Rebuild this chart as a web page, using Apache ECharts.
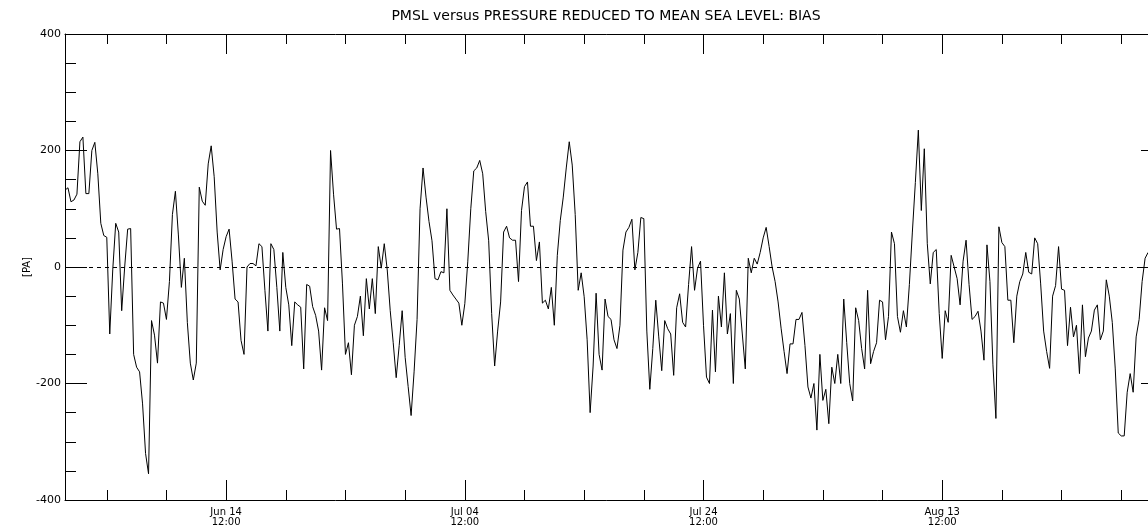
<!DOCTYPE html>
<html>
<head>
<meta charset="utf-8">
<script src="https://cdn.jsdelivr.net/npm/echarts@6/dist/echarts.min.js"></script>
<style>
html,body{margin:0;padding:0;background:#fff;}
#chart{width:1148px;height:531px;}
</style>
</head>
<body>
<div id="chart"></div>
<script>
// 6-hourly bias values [Pa], starting Jun 01 00:00
const stepHours = 6;
const biasPa = [
 132,136,112,115,125,215,223,126,126,200,
 214,160,75,54,51,-115,-5,75,60,-75,
 0,65,66,-150,-172,-180,-235,-320,-355,-92,
 -117,-165,-60,-62,-90,-25,90,130,55,-35,
 15,-95,-165,-194,-165,137,113,106,177,208,
 155,60,-5,30,52,65,10,-55,-60,-126,
 -150,0,6,6,2,40,35,-40,-110,40,
 30,-35,-110,25,-35,-65,-135,-60,-65,-69,
 -175,-30,-33,-68,-83,-110,-177,-70,-92,200,
 125,65,66,-29,-150,-130,-185,-100,-85,-50,
 -118,-20,-72,-20,-80,35,-2,40,-5,-75,
 -130,-190,-135,-75,-155,-205,-255,-180,-90,100,
 170,120,78,45,-20,-22,-8,-10,100,-40,
 -48,-55,-62,-100,-63,10,100,165,170,183,
 160,95,45,-80,-170,-110,-60,60,70,50,
 46,46,-25,97,138,146,70,70,11,43,
 -62,-57,-72,-35,-100,20,80,120,170,215,
 175,90,-40,-10,-51,-125,-250,-170,-45,-150,
 -177,-55,-85,-90,-125,-140,-100,29,60,68,
 82,-5,25,85,83,-110,-210,-140,-57,-120,
 -178,-92,-106,-115,-186,-70,-46,-95,-103,-30,
 35,-40,-2,10,-100,-189,-200,-74,-180,-50,
 -103,-10,-115,-80,-200,-40,-55,-115,-175,15,
 -10,15,5,25,50,68,35,0,-25,-60,
 -105,-145,-183,-132,-132,-90,-90,-78,-135,-206,
 -225,-200,-280,-150,-229,-210,-269,-172,-200,-150,
 -200,-55,-130,-200,-230,-70,-92,-140,-175,-40,
 -166,-145,-130,-57,-60,-125,-85,60,40,-85,
 -112,-75,-103,-30,60,145,235,97,203,40,
 -29,25,30,-80,-157,-75,-95,20,0,-20,
 -65,10,46,-30,-90,-85,-76,-110,-160,38,
 -25,-168,-260,69,42,35,-57,-57,-130,-50,
 -25,-12,25,-9,-12,50,40,-29,-110,-145,
 -174,-50,-32,35,-38,-40,-135,-69,-120,-100,
 -183,-65,-154,-122,-110,-74,-65,-125,-110,-22,
 -50,-95,-175,-285,-290,-290,-215,-183,-215,-120,
 -90,-25,15,25
];
// axis: hours since Jun 01 00:00, Jun 01 -> Sep 01
const axisMaxHours = 2208;
const majorTickHours = [324, 804, 1284, 1764];
const majorTickLabels = ['Jun 14\n12:00', 'Jul 04\n12:00', 'Jul 24\n12:00', 'Aug 13\n12:00'];
const minorTickHours = [84, 204, 324, 444, 564, 684, 804, 924, 1044, 1164, 1284, 1404, 1524, 1644, 1764, 1884, 2004, 2124];
const yTicks = {min: -400, max: 400, major: 200};

const seriesData = biasPa.map((v, i) => [i * stepHours, v]);
const FONT = 'DejaVu Sans';
const black = '#000';

function xAx(pos, ticks, len, showLine, labels) {
  return {
    type: 'value', min: 0, max: axisMaxHours, position: pos,
    axisLine: {show: showLine, onZero: false, lineStyle: {color: black, width: 1}},
    axisTick: {show: true, inside: true, length: len, customValues: ticks, lineStyle: {color: black, width: 1}},
    axisLabel: labels ? {
      show: true, customValues: majorTickHours, color: black, fontFamily: FONT, fontSize: 10,
      lineHeight: 10, margin: 7,
      formatter: v => { const k = majorTickHours.indexOf(v); return k >= 0 ? majorTickLabels[k] : ''; }
    } : {show: false},
    splitLine: {show: false}
  };
}
function yAx(pos, labels) {
  return {
    type: 'value', min: yTicks.min, max: yTicks.max, interval: yTicks.major, position: pos,
    name: labels ? '[PA]' : '', nameLocation: 'middle', nameRotate: 90, nameGap: 33,
    nameMoveOverlap: false,
    nameTextStyle: {color: black, fontFamily: FONT, fontSize: 10},
    axisLine: {show: true, onZero: false, lineStyle: {color: black, width: 1}},
    axisTick: {show: true, inside: true, length: 22, lineStyle: {color: black, width: 1}},
    minorTick: {show: true, splitNumber: 4, length: 11, lineStyle: {color: black, width: 1}},
    axisLabel: {show: labels, color: black, fontFamily: FONT, fontSize: 11, margin: 4},
    splitLine: {show: false}, minorSplitLine: {show: false}
  };
}

const chart = echarts.init(document.getElementById('chart'), null, {renderer: 'canvas'});
chart.setOption({
  animation: false,
  backgroundColor: '#fff',
  title: {
    text: 'PMSL versus PRESSURE REDUCED TO MEAN SEA LEVEL: BIAS',
    left: 601, top: 4, textAlign: 'center',
    textStyle: {color: black, fontFamily: FONT, fontSize: 14, fontWeight: 'normal'}
  },
  grid: {left: 65, top: 34, width: 1098, height: 466, containLabel: false, outerBoundsMode: 'none'},
  xAxis: [
    xAx('bottom', minorTickHours, 10, true, false),
    xAx('bottom', majorTickHours, 20, false, true),
    xAx('top', minorTickHours, 10, true, false),
    xAx('top', majorTickHours, 20, false, false)
  ],
  yAxis: [yAx('left', true), yAx('right', false)],
  series: [{
    type: 'line', xAxisIndex: 0, yAxisIndex: 0, data: seriesData,
    showSymbol: false, symbol: 'none',
    lineStyle: {color: black, width: 1},
    markLine: {
      silent: true, symbol: 'none', label: {show: false},
      lineStyle: {color: black, width: 1, type: [4, 4]},
      data: [{yAxis: 0}]
    }
  }]
});
</script>
</body>
</html>
